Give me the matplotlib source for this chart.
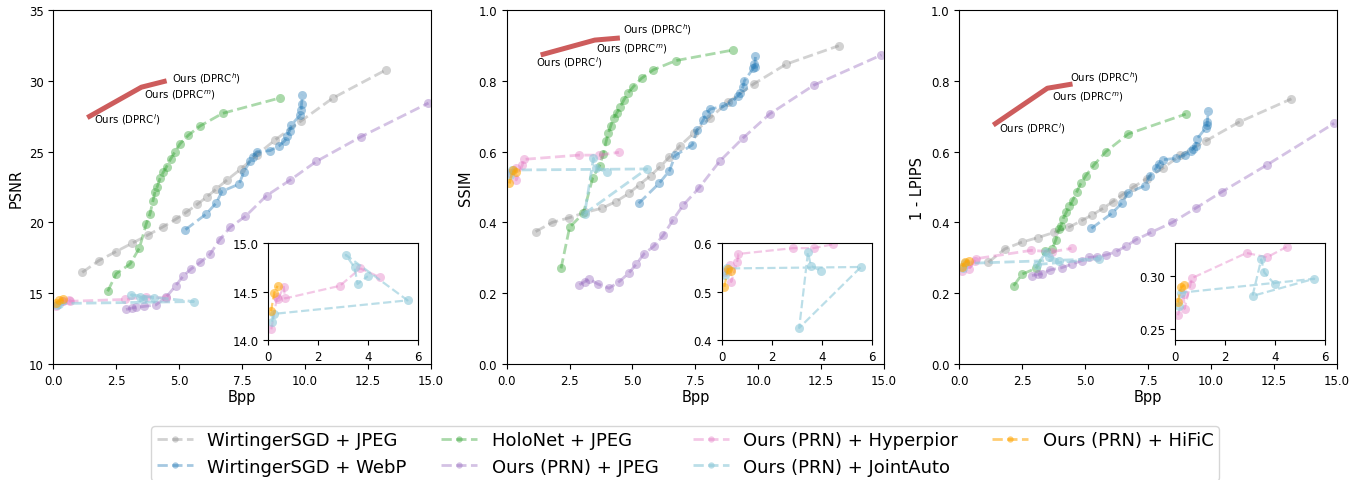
import matplotlib
matplotlib.use("Agg")
import matplotlib.pyplot as plt
import numpy as np

# ---------------- data ----------------
wsgd_jpeg_bpp = [1.15, 1.81, 2.48, 3.12, 3.78, 4.35, 4.86, 5.28, 5.72, 6.11, 6.46, 6.90, 7.45, 8.08, 8.79, 9.82, 11.11, 13.20]
wsgd_jpeg_psnr = [16.47, 17.30, 17.93, 18.52, 19.13, 19.68, 20.22, 20.71, 21.28, 21.82, 22.34, 23.00, 23.77, 24.76, 25.80, 27.14, 28.79, 30.76]
wsgd_jpeg_ssim = [0.374, 0.400, 0.413, 0.428, 0.440, 0.459, 0.482, 0.507, 0.532, 0.558, 0.584, 0.617, 0.653, 0.695, 0.739, 0.791, 0.847, 0.899]
wsgd_jpeg_lpips = [0.287, 0.325, 0.344, 0.357, 0.372, 0.386, 0.405, 0.421, 0.440, 0.459, 0.477, 0.499, 0.524, 0.553, 0.589, 0.631, 0.683, 0.749]

wsgd_webp_bpp = [5.25, 6.07, 6.47, 6.70, 7.38, 7.57, 7.82, 7.92, 8.09, 8.61, 8.96, 9.20, 9.28, 9.39, 9.45, 9.81, 9.84, 9.86, 9.89]
wsgd_webp_psnr = [19.49, 20.59, 21.37, 22.19, 22.71, 23.58, 24.34, 24.65, 25.00, 25.07, 25.40, 25.77, 26.12, 26.48, 26.88, 27.58, 27.96, 28.36, 29.00]
wsgd_webp_ssim = [0.454, 0.511, 0.546, 0.589, 0.619, 0.661, 0.690, 0.706, 0.720, 0.728, 0.741, 0.758, 0.765, 0.782, 0.800, 0.836, 0.847, 0.840, 0.869]
wsgd_webp_lpips = [0.383, 0.426, 0.455, 0.483, 0.504, 0.532, 0.553, 0.565, 0.577, 0.581, 0.590, 0.602, 0.607, 0.617, 0.636, 0.668, 0.675, 0.683, 0.714]

holonet_bpp = [2.16, 2.50, 3.05, 3.42, 3.69, 3.84, 3.96, 4.04, 4.13, 4.25, 4.37, 4.50, 4.66, 4.83, 5.03, 5.36, 5.83, 6.72, 9.00]
holonet_psnr = [15.13, 16.38, 17.06, 18.19, 19.89, 20.60, 21.54, 22.17, 22.53, 23.16, 23.54, 23.94, 24.48, 24.98, 25.54, 26.15, 26.81, 27.70, 28.79]
holonet_ssim = [0.270, 0.386, 0.426, 0.526, 0.560, 0.593, 0.631, 0.652, 0.671, 0.695, 0.708, 0.725, 0.746, 0.766, 0.783, 0.807, 0.831, 0.857, 0.887]
holonet_lpips = [0.221, 0.254, 0.270, 0.318, 0.325, 0.351, 0.381, 0.390, 0.411, 0.428, 0.445, 0.461, 0.485, 0.510, 0.532, 0.563, 0.600, 0.650, 0.706]

prn_jpeg_bpp = [2.89, 3.11, 3.28, 3.62, 4.07, 4.48, 4.86, 5.15, 5.47, 5.84, 6.22, 6.61, 7.02, 7.63, 8.47, 9.39, 10.45, 12.22, 14.90]
prn_jpeg_psnr = [13.85, 13.95, 14.00, 14.07, 14.17, 14.71, 15.53, 16.19, 16.71, 17.18, 17.74, 18.78, 19.65, 20.43, 21.89, 22.97, 24.31, 26.05, 28.43]
prn_jpeg_ssim = [0.224, 0.233, 0.240, 0.226, 0.214, 0.233, 0.257, 0.282, 0.312, 0.332, 0.363, 0.407, 0.449, 0.496, 0.573, 0.638, 0.706, 0.788, 0.873]
prn_jpeg_lpips = [0.250, 0.253, 0.255, 0.266, 0.272, 0.282, 0.292, 0.301, 0.303, 0.308, 0.317, 0.332, 0.351, 0.372, 0.400, 0.440, 0.487, 0.562, 0.680]

hyper_bpp = [0.12, 0.35, 0.38, 0.62, 0.67, 2.86, 3.68, 4.46]
hyper_psnr = [14.11, 14.44, 14.42, 14.55, 14.43, 14.56, 14.74, 14.65]
hyper_ssim = [0.540, 0.555, 0.520, 0.562, 0.578, 0.590, 0.590, 0.598]
hyper_lpips = [0.263, 0.283, 0.269, 0.2916, 0.2975, 0.321, 0.317, 0.3266]

joint_bpp = [0.15, 0.22, 5.57, 3.10, 3.45, 3.57, 3.98]
joint_psnr = [14.19, 14.27, 14.41, 14.88, 14.75, 14.58, 14.66]
joint_ssim = [0.534, 0.548, 0.551, 0.425, 0.581, 0.553, 0.543]
joint_lpips = [0.272, 0.284, 0.297, 0.281, 0.315, 0.303, 0.292]

hific_bpp = [0.11, 0.24, 0.37]
hific_psnr = [14.30, 14.49, 14.56]
hific_ssim = [0.510, 0.547, 0.543]
hific_lpips = [0.275, 0.289, 0.291]

dprc_bpp = [1.35, 3.50, 4.50]
dprc_psnr = [27.40, 29.55, 30.00]
dprc_ssim = [0.873, 0.915, 0.921]
dprc_lpips = [0.675, 0.779, 0.791]
dprc_labels = [r"Ours (DPRC$^l$)", r"Ours (DPRC$^m$)", r"Ours (DPRC$^h$)"]

series_labels = ["WirtingerSGD + JPEG", "WirtingerSGD + WebP", "HoloNet + JPEG",
                 "Ours (PRN) + JPEG", "Ours (PRN) + Hyperpior", "Ours (PRN) + JointAuto",
                 "Ours (PRN) + HiFiC"]
metric_names = ["PSNR", "SSIM", "1 - LPIPS"]

# ---------------- styling ----------------
colors = ["#7f7f7f", "tab:blue", "tab:green", "tab:purple", "tab:pink", "#8fc9d9", "orange"]
alphas = [0.35, 0.4, 0.4, 0.4, 0.4, 0.6, 0.55]

bpps = [wsgd_jpeg_bpp, wsgd_webp_bpp, holonet_bpp, prn_jpeg_bpp, hyper_bpp, joint_bpp, hific_bpp]
vals = [
    [wsgd_jpeg_psnr, wsgd_webp_psnr, holonet_psnr, prn_jpeg_psnr, hyper_psnr, joint_psnr, hific_psnr],
    [wsgd_jpeg_ssim, wsgd_webp_ssim, holonet_ssim, prn_jpeg_ssim, hyper_ssim, joint_ssim, hific_ssim],
    [wsgd_jpeg_lpips, wsgd_webp_lpips, holonet_lpips, prn_jpeg_lpips, hyper_lpips, joint_lpips, hific_lpips],
]
dprc_vals = [dprc_psnr, dprc_ssim, dprc_lpips]

ylims = [(10, 35), (0, 1), (0, 1)]
yticks = [np.arange(10, 36, 5), np.arange(0, 1.01, 0.2), np.arange(0, 1.01, 0.2)]
inset_ylims = [(14.0, 15.0), (0.4, 0.6), (0.24, 0.33)]
inset_yticks = [[14.0, 14.5, 15.0], [0.4, 0.5, 0.6], [0.25, 0.30]]
inset_fmt = ["{:.1f}", "{:.1f}", "{:.2f}"]

# label offsets (points) for DPRC annotations per panel: [l, m, h]
label_offsets = [
    [(5, -1), (2, -5), (4, 2.6)],
    [(-3, -5), (1.2, -6), (2.4, 6.6)],
    [(4, -1.5), (3, -6), (-1.5, 5)],
]

W, H = 13.65, 4.81
fig = plt.figure(figsize=(W, H), dpi=100)

ax_px = [(53.3, 431.0), (506.7, 884.0), (959.3, 1336.7)]
inset_px = [268.3, 721.7, 1175.0]
top_px, bot_px = 11.0, 365.0
in_top, in_bot, in_w = 244.3, 341.0, 150.0

handles = []
for p in range(3):
    l, r = ax_px[p]
    ax = fig.add_axes([l / 1365, 1 - bot_px / 481, (r - l) / 1365, (bot_px - top_px) / 481])
    for i in range(7):
        ln, = ax.plot(bpps[i], vals[p][i], linestyle="--", marker="o", color=colors[i],
                      alpha=alphas[i], lw=2, markersize=6.5, markeredgewidth=0,
                      label=series_labels[i])
        if p == 0:
            handles.append(ln)
    ax.plot(dprc_bpp, dprc_vals[p], color="indianred", lw=3.6, solid_capstyle="butt", zorder=5)
    for k in range(3):
        ax.annotate(dprc_labels[k], (dprc_bpp[k], dprc_vals[p][k]), xytext=label_offsets[p][k],
                    textcoords="offset points", fontsize=7.3, va="center", ha="left", zorder=6)
    ax.set_xlim(0, 15)
    ax.set_ylim(*ylims[p])
    ax.set_xticks(np.arange(0, 15.1, 2.5))
    ax.set_xticklabels([f"{v:.1f}" for v in np.arange(0, 15.1, 2.5)])
    ax.set_yticks(yticks[p])
    if p == 0:
        ax.set_yticklabels([f"{int(v)}" for v in yticks[p]])
    else:
        ax.set_yticklabels([f"{v:.1f}" for v in yticks[p]])
    ax.tick_params(labelsize=8.5)
    ax.set_xlabel("Bpp", fontsize=10.5, labelpad=2)
    ax.set_ylabel(metric_names[p], fontsize=10.5, labelpad=4)

    # inset
    il = inset_px[p]
    iax = fig.add_axes([il / 1365, 1 - in_bot / 481, in_w / 1365, (in_bot - in_top) / 481])
    for i in range(4, 7):
        iax.plot(bpps[i], vals[p][i], linestyle="--", marker="o", color=colors[i],
                 alpha=alphas[i], lw=1.6, markersize=6.5, markeredgewidth=0)
    iax.set_xlim(0, 6)
    iax.set_ylim(*inset_ylims[p])
    iax.set_xticks([0, 2, 4, 6])
    iax.set_yticks(inset_yticks[p])
    iax.set_yticklabels([inset_fmt[p].format(v) for v in inset_yticks[p]])
    iax.tick_params(labelsize=8.5)

fig.legend(handles=handles, loc="upper center", bbox_to_anchor=(0.502, 1 - 427 / 481), ncol=4,
           fontsize=13, handlelength=2.0, markerscale=0.7, columnspacing=1.9,
           labelspacing=0.45, borderpad=0.3, borderaxespad=0.0, frameon=True)

fig.savefig("out.png", dpi=100)
